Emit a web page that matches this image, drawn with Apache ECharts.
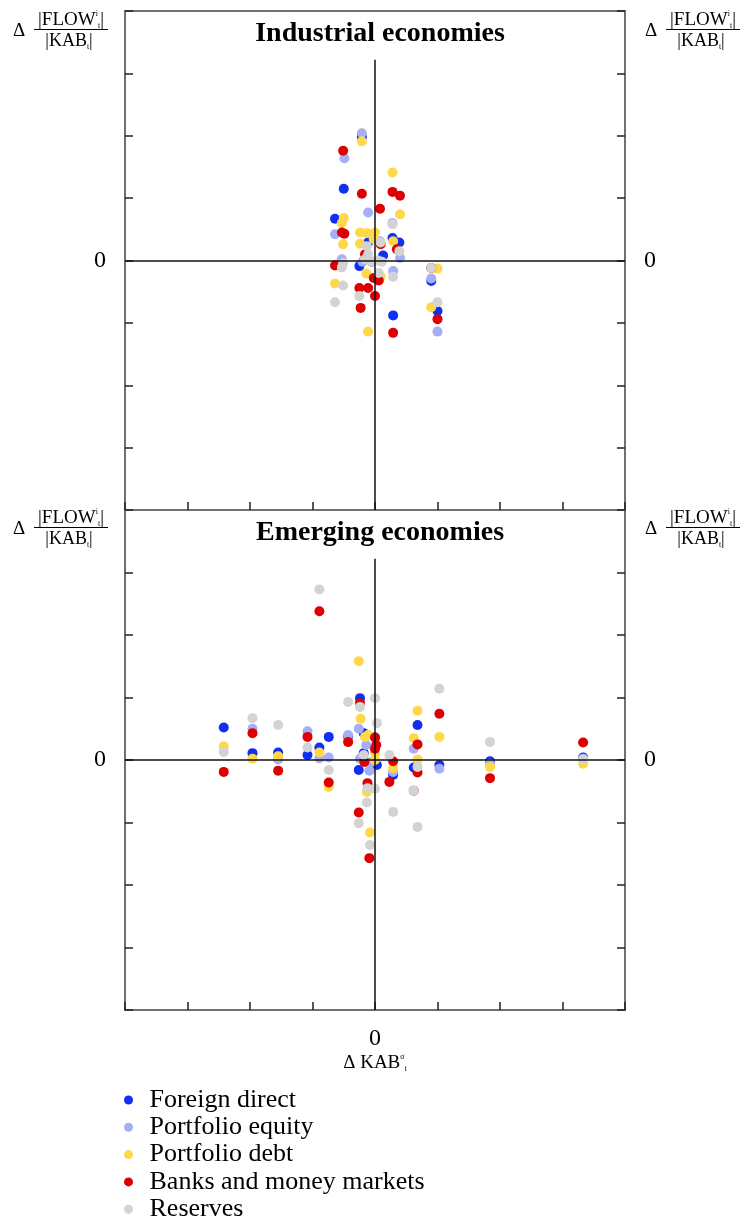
<!DOCTYPE html>
<html>
<head>
<meta charset="utf-8">
<script src="https://cdn.jsdelivr.net/npm/echarts@6/dist/echarts.min.js"></script>
<style>
html, body { margin: 0; padding: 0; background: #fff; }
#main { width: 741px; height: 1221px; }
</style>
</head>
<body>
<div id="main"></div>
<script>
// 系列名称和颜色
var seriesNames = ["Foreign direct", "Portfolio equity", "Portfolio debt", "Banks and money markets", "Reserves"];
var seriesColors = ["#0f2ff2", "#a6aef8", "#ffd84a", "#dc0000", "#d3d3d3"];
var panelTitles = ["Industrial economies", "Emerging economies"];
var zeroTickLabel = "0";

// 工业经济体 [ΔKAB, ΔFLOW/KAB]
var indFdi = [[-0.21,1.98],[-0.50,1.15],[-0.64,0.67],[-0.11,0.29],[0.28,0.36],[0.39,0.29],[-0.05,-0.02],[0.13,0.08],[-0.25,-0.09],[0.90,-0.33],[1.00,-0.81],[0.29,-0.88]];
var indEquity = [[-0.21,2.04],[-0.49,1.64],[-0.11,0.77],[-0.64,0.42],[0.08,0.31],[0.40,0.04],[-0.53,0.02],[-0.20,-0.02],[0.29,-0.17],[0.90,-0.29],[1.00,-1.14],[0.28,0.60]];
var indDebt = [[-0.21,1.91],[0.28,1.41],[0.40,0.74],[-0.50,0.68],[-0.53,0.60],[-0.24,0.45],[-0.13,0.44],[0.00,0.45],[-0.02,0.34],[-0.51,0.26],[0.29,0.31],[-0.24,0.27],[-0.14,-0.21],[0.09,-0.26],[1.00,-0.13],[-0.64,-0.37],[0.90,-0.75],[-0.11,-1.14]];
var indBanks = [[-0.51,1.76],[-0.21,1.07],[0.28,1.10],[0.40,1.04],[0.08,0.83],[-0.53,0.45],[-0.49,0.43],[0.09,0.26],[0.35,0.18],[-0.16,0.10],[-0.64,-0.08],[-0.02,-0.28],[0.06,-0.32],[0.90,-0.12],[-0.25,-0.44],[-0.11,-0.44],[0.00,-0.57],[-0.23,-0.76],[1.00,-0.94],[0.29,-1.16]];
var indReserves = [[0.28,0.58],[0.09,0.29],[0.39,0.15],[-0.13,0.23],[-0.11,0.10],[-0.51,-0.04],[-0.53,-0.11],[-0.16,0.02],[-0.05,-0.02],[0.05,0.00],[0.11,-0.02],[0.06,-0.20],[0.29,-0.26],[0.90,-0.12],[-0.51,-0.40],[-0.25,-0.57],[-0.64,-0.67],[1.00,-0.67]];

// 新兴经济体
var emgFdi = [[-2.42,0.52],[-1.96,0.11],[-1.55,0.12],[-1.08,0.08],[-0.89,0.20],[-0.74,0.37],[-0.43,0.38],[-0.24,0.99],[-0.18,0.43],[0.00,0.36],[-0.18,0.11],[-0.26,-0.16],[0.03,-0.08],[0.29,-0.24],[0.68,0.56],[0.62,-0.12],[1.03,-0.08],[1.84,-0.02],[3.33,0.04]];
var emgEquity = [[-1.96,0.50],[-1.55,0.01],[-1.08,0.46],[-0.89,0.03],[-0.74,0.04],[-0.43,0.40],[-0.26,0.50],[-0.24,0.02],[-0.14,0.24],[-0.09,-0.17],[-0.06,-0.03],[0.29,-0.19],[0.62,0.18],[1.03,-0.14],[1.84,-0.06],[3.33,0.02]];
var emgDebt = [[-2.42,0.22],[-1.96,0.02],[-1.55,0.06],[-0.89,0.12],[-0.74,-0.43],[-0.43,0.29],[-0.26,1.58],[-0.23,0.66],[-0.16,0.37],[-0.11,0.40],[0.00,0.11],[0.00,0.00],[-0.13,-0.51],[-0.08,-1.16],[0.29,-0.13],[0.68,0.79],[0.62,0.35],[0.68,0.01],[1.03,0.37],[1.84,-0.11],[3.33,-0.06]];
var emgBanks = [[-0.89,2.38],[-2.42,-0.19],[-1.96,0.43],[-1.55,-0.17],[-1.08,0.37],[-0.74,-0.36],[-0.43,0.29],[-0.24,0.91],[-0.17,-0.03],[-0.12,-0.37],[-0.26,-0.84],[-0.09,-1.57],[0.00,0.36],[0.02,0.24],[0.00,0.18],[0.29,-0.02],[0.23,-0.35],[0.68,0.25],[0.68,-0.20],[0.62,-0.49],[1.03,0.74],[1.84,-0.29],[3.33,0.28]];
var emgReserves = [[-0.89,2.73],[-2.42,0.13],[-1.96,0.67],[-1.55,0.56],[-1.08,0.20],[-0.74,-0.16],[-0.43,0.93],[-0.24,0.85],[0.00,0.99],[0.03,0.59],[-0.18,0.08],[-0.12,-0.45],[0.00,-0.46],[-0.13,-0.68],[-0.26,-1.01],[-0.08,-1.36],[0.23,0.08],[0.29,-0.83],[0.68,-0.11],[0.62,-0.49],[0.68,-1.07],[1.03,1.14],[1.84,0.29],[3.33,0.01]];

var panelData = [
  [indFdi, indEquity, indDebt, indBanks, indReserves],
  [emgFdi, emgEquity, emgDebt, emgBanks, emgReserves]
];

var serif = "Liberation Serif";
var frameColor = "#707070";

var grids = [
  { left: 125, top: 11, width: 500, height: 499 },
  { left: 125, top: 510, width: 500, height: 500 }
];

var xAxes = [], yAxes = [], series = [];
for (var g = 0; g < 2; g++) {
  // 下方x轴（带刻度）
  xAxes.push({
    gridIndex: g, type: "value", min: -4, max: 4, interval: 1, position: "bottom",
    axisLine: { onZero: false, lineStyle: { color: frameColor, width: 2 } },
    axisTick: { inside: true, length: 8, lineStyle: { color: "#222", width: 1.5 } },
    axisLabel: {
      show: g === 1, margin: 17, color: "#000", fontFamily: serif, fontSize: 24,
      formatter: function (v) { return v === 0 ? zeroTickLabel : ""; }
    },
    splitLine: { show: false }
  });
  // 上方x轴只画边框
  xAxes.push({
    gridIndex: g, type: "value", min: -4, max: 4, position: "top",
    axisLine: { onZero: false, lineStyle: { color: frameColor, width: 2 } },
    axisTick: { show: false }, axisLabel: { show: false }, splitLine: { show: false }
  });
  // 左右y轴
  ["left", "right"].forEach(function (pos) {
    yAxes.push({
      gridIndex: g, type: "value", min: -4, max: 4, interval: 1, position: pos,
      axisLine: { onZero: false, lineStyle: { color: frameColor, width: 2 } },
      axisTick: { inside: true, length: 8, lineStyle: { color: "#222", width: 1.5 } },
      axisLabel: {
        margin: 19, color: "#000", fontFamily: serif, fontSize: 24,
        formatter: function (v) { return v === 0 ? zeroTickLabel : ""; }
      },
      splitLine: { show: false }
    });
  });

  for (var s = 0; s < seriesNames.length; s++) {
    var item = {
      name: seriesNames[s],
      type: "scatter",
      xAxisIndex: g * 2,
      yAxisIndex: g * 2,
      symbolSize: 10,
      itemStyle: { color: seriesColors[s], opacity: 1 },
      data: panelData[g][s]
    };
    if (s === 0) {
      // 零线
      item.markLine = {
        silent: true, symbol: "none", animation: false,
        label: { show: false },
        lineStyle: { color: "#111", width: 1.5, type: "solid" },
        data: [
          { yAxis: 0 },
          [{ coord: [0, -4] }, { coord: [0, 3.22] }]
        ]
      };
    }
    series.push(item);
  }
}

// 纵轴标签 Δ |FLOW|/|KAB|
function fracLabel(x, y) {
  return [
    { type: "text", x: x + 7, y: y + 2, style: { text: "Δ", fontFamily: serif, fontSize: 19, fill: "#000", align: "center", verticalAlign: "middle" } },
    { type: "text", x: x + 59, y: y - 9, style: {
        text: "{n||FLOW}{s|i}{b|t}{n||}", align: "center", verticalAlign: "middle",
        rich: {
          n: { fontFamily: serif, fontSize: 19, lineHeight: 20, fill: "#000" },
          s: { fontFamily: serif, fontSize: 8, verticalAlign: "top", fill: "#000" },
          b: { fontFamily: serif, fontSize: 8, verticalAlign: "bottom", fill: "#000" }
        } } },
    { type: "line", shape: { x1: x + 22, y1: y + 0.5, x2: x + 96, y2: y + 0.5 }, style: { stroke: "#000", lineWidth: 1 } },
    { type: "text", x: x + 57, y: y + 12, style: {
        text: "{n||KAB}{b|t}{n||}", align: "center", verticalAlign: "middle",
        rich: {
          n: { fontFamily: serif, fontSize: 18, lineHeight: 19, fill: "#000" },
          b: { fontFamily: serif, fontSize: 8, verticalAlign: "bottom", fill: "#000" }
        } } }
  ];
}

var graphics = [].concat(fracLabel(12, 29), fracLabel(644, 29), fracLabel(12, 527), fracLabel(644, 527));
graphics.push({
  type: "text", x: 375, y: 1063, style: {
    text: "{n|Δ KAB}{s|σ}{b|t}", align: "center", verticalAlign: "middle",
    rich: {
      n: { fontFamily: serif, fontSize: 19, lineHeight: 20, fill: "#000" },
      s: { fontFamily: serif, fontSize: 8, verticalAlign: "top", fill: "#000" },
      b: { fontFamily: serif, fontSize: 8, verticalAlign: "bottom", fill: "#000" }
    }
  }
});

var myChart = echarts.init(document.getElementById("main"));
myChart.setOption({
  animation: false,
  backgroundColor: "#fff",
  title: panelTitles.map(function (t, i) {
    return {
      text: t, left: 375, top: i === 0 ? 15 : 514, textAlign: "center",
      textStyle: { fontFamily: serif, fontSize: 28, fontWeight: "bold", color: "#000" }
    };
  }),
  grid: grids,
  xAxis: xAxes,
  yAxis: yAxes,
  legend: {
    data: seriesNames,
    orient: "vertical",
    left: 124,
    top: 1087,
    padding: 0,
    height: 300,
    icon: "circle",
    itemWidth: 32,
    itemHeight: 9,
    itemGap: 1.3,
    textStyle: { fontFamily: serif, fontSize: 26, lineHeight: 23, color: "#000", padding: [0, 0, 0, 0] }
  },
  graphic: graphics,
  series: series
});
</script>
</body>
</html>
